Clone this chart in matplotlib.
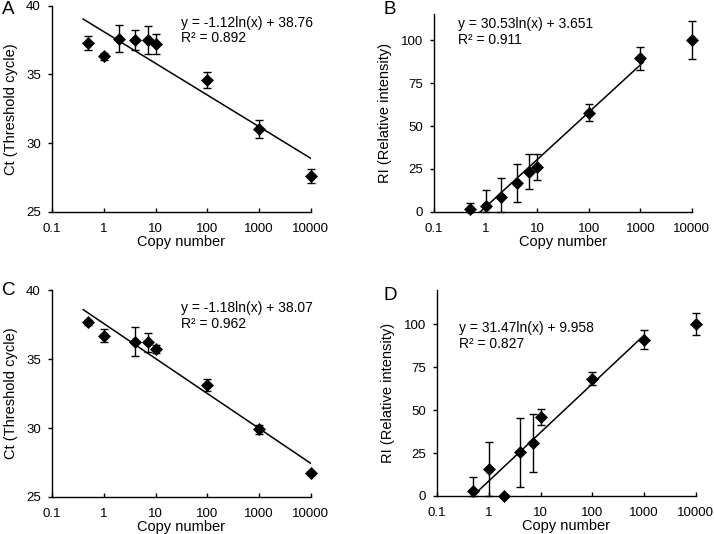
import matplotlib
matplotlib.use("Agg")
import matplotlib.pyplot as plt
import numpy as np

plt.rcParams['font.family'] = ['Liberation Sans', 'DejaVu Sans']

# copy numbers per panel
xA = [0.5, 1, 2, 4, 7, 10, 100, 1000, 10000]
yA = [37.25, 36.3, 37.6, 37.5, 37.5, 37.2, 34.6, 31.0, 27.6]
eA = [0.5, 0.25, 0.95, 0.7, 1.0, 0.7, 0.6, 0.65, 0.5]

xB = [0.5, 1, 2, 4, 7, 10, 100, 1000, 10000]
yB = [2.0, 3.5, 9.0, 17.0, 23.5, 26.4, 57.7, 89.3, 100.0]
eB = [3.0, 9.0, 10.5, 11.0, 10.0, 7.6, 5.0, 6.5, 11.0]

xC = [0.5, 1, 4, 7, 10, 100, 1000, 10000]
yC = [37.65, 36.7, 36.25, 36.2, 35.75, 33.1, 29.9, 26.75]
eC = [0.2, 0.5, 1.05, 0.7, 0.3, 0.45, 0.3, 0.15]

xD = [0.5, 1, 2, 4, 7, 10, 100, 1000, 10000]
yD = [2.9, 15.5, 0.0, 25.5, 31.0, 46.1, 68.4, 91.1, 100.0]
eD = [8.0, 16.0, 0.0, 20.0, 17.0, 4.7, 4.0, 5.3, 6.3]

# points used for each trendline and its drawn range
nfitA, rangeA = 9, [0.4, 11700]
nfitB, rangeB = 8, [0.5, 1150]
nfitC, rangeC = 8, [0.4, 11700]
nfitD, rangeD = 8, [0.42, 1000]

eqA = "y = -1.12ln(x) + 38.76\nR\u00b2 = 0.892"
eqB = "y = 30.53ln(x) + 3.651\nR\u00b2 = 0.911"
eqC = "y = -1.18ln(x) + 38.07\nR\u00b2 = 0.962"
eqD = "y = 31.47ln(x) + 9.958\nR\u00b2 = 0.827"

xticks = [0.1, 1, 10, 100, 1000, 10000]
xticklabels = ["0.1", "1", "10", "100", "1000", "10000"]

fig = plt.figure(figsize=(7.14, 5.34), dpi=100)


def panel(rect, x, y, err, nfit, frange, ylim, yticks, ylabel, eq, eqpos, letter, letterpos):
    ax = fig.add_axes(rect)
    x = np.array(x, dtype=float)
    y = np.array(y, dtype=float)
    err = np.array(err, dtype=float)
    # log trendline fitted on the chosen points
    k, b = np.polyfit(np.log10(x[:nfit]), y[:nfit], 1)
    xl = np.logspace(np.log10(frange[0]), np.log10(frange[1]), 50)
    ax.plot(xl, k * np.log10(xl) + b, color='black', lw=1.1, zorder=2)
    # lower bars stop at the x axis
    lower = np.minimum(err, y - ylim[0])
    ax.errorbar(x, y, yerr=[lower, err], fmt='none', ecolor='black', elinewidth=1.0,
                capsize=3, capthick=1.0, zorder=3, clip_on=False)
    ax.plot(x, y, 'D', color='black', ms=6, mew=0.5, clip_on=False, zorder=4)
    ax.set_xscale('log')
    ax.set_xlim(0.1, 10000)
    ax.set_ylim(*ylim)
    ax.set_xticks(xticks)
    ax.set_xticklabels(xticklabels)
    ax.minorticks_off()
    ax.set_yticks(yticks)
    for s in ['top', 'right']:
        ax.spines[s].set_visible(False)
    for s in ['left', 'bottom']:
        ax.spines[s].set_linewidth(1.0)
    ax.tick_params(axis='x', direction='in', length=3, width=1.0, labelsize=9.5, pad=8)
    ax.tick_params(axis='y', direction='out', length=3, width=1.0, labelsize=9.5, pad=5)
    ax.set_xlabel("Copy number", fontsize=10.5, labelpad=0)
    ax.set_ylabel(ylabel, fontsize=10.5, labelpad=6)
    ax.text(eqpos[0], eqpos[1], eq, transform=ax.transAxes, fontsize=10,
            va='top', ha='left', linespacing=1.15)
    fig.text(letterpos[0], letterpos[1], letter, fontsize=13.5, va='top', ha='left')
    return ax


panel([0.0728, 0.603, 0.3627, 0.3867], xA, yA, eA, nfitA, rangeA, (25, 40), [25, 30, 35, 40],
      "Ct (Threshold cycle)", eqA, (0.50, 0.95), "A", (0.003, 0.998))
panel([0.6078, 0.603, 0.3613, 0.3704], xB, yB, eB, nfitB, rangeB, (0, 115), [0, 25, 50, 75, 100],
      "RI (Relative intensity)", eqB, (0.095, 0.985), "B", (0.537, 0.998))
panel([0.0728, 0.0693, 0.3627, 0.3876], xC, yC, eC, nfitC, rangeC, (25, 40), [25, 30, 35, 40],
      "Ct (Threshold cycle)", eqC, (0.50, 0.945), "C", (0.003, 0.472))
panel([0.612, 0.0712, 0.3627, 0.3858], xD, yD, eD, nfitD, rangeD, (0, 120), [0, 25, 50, 75, 100],
      "RI (Relative intensity)", eqD, (0.084, 0.85), "D", (0.537, 0.462))

fig.savefig("out.png", dpi=100)
